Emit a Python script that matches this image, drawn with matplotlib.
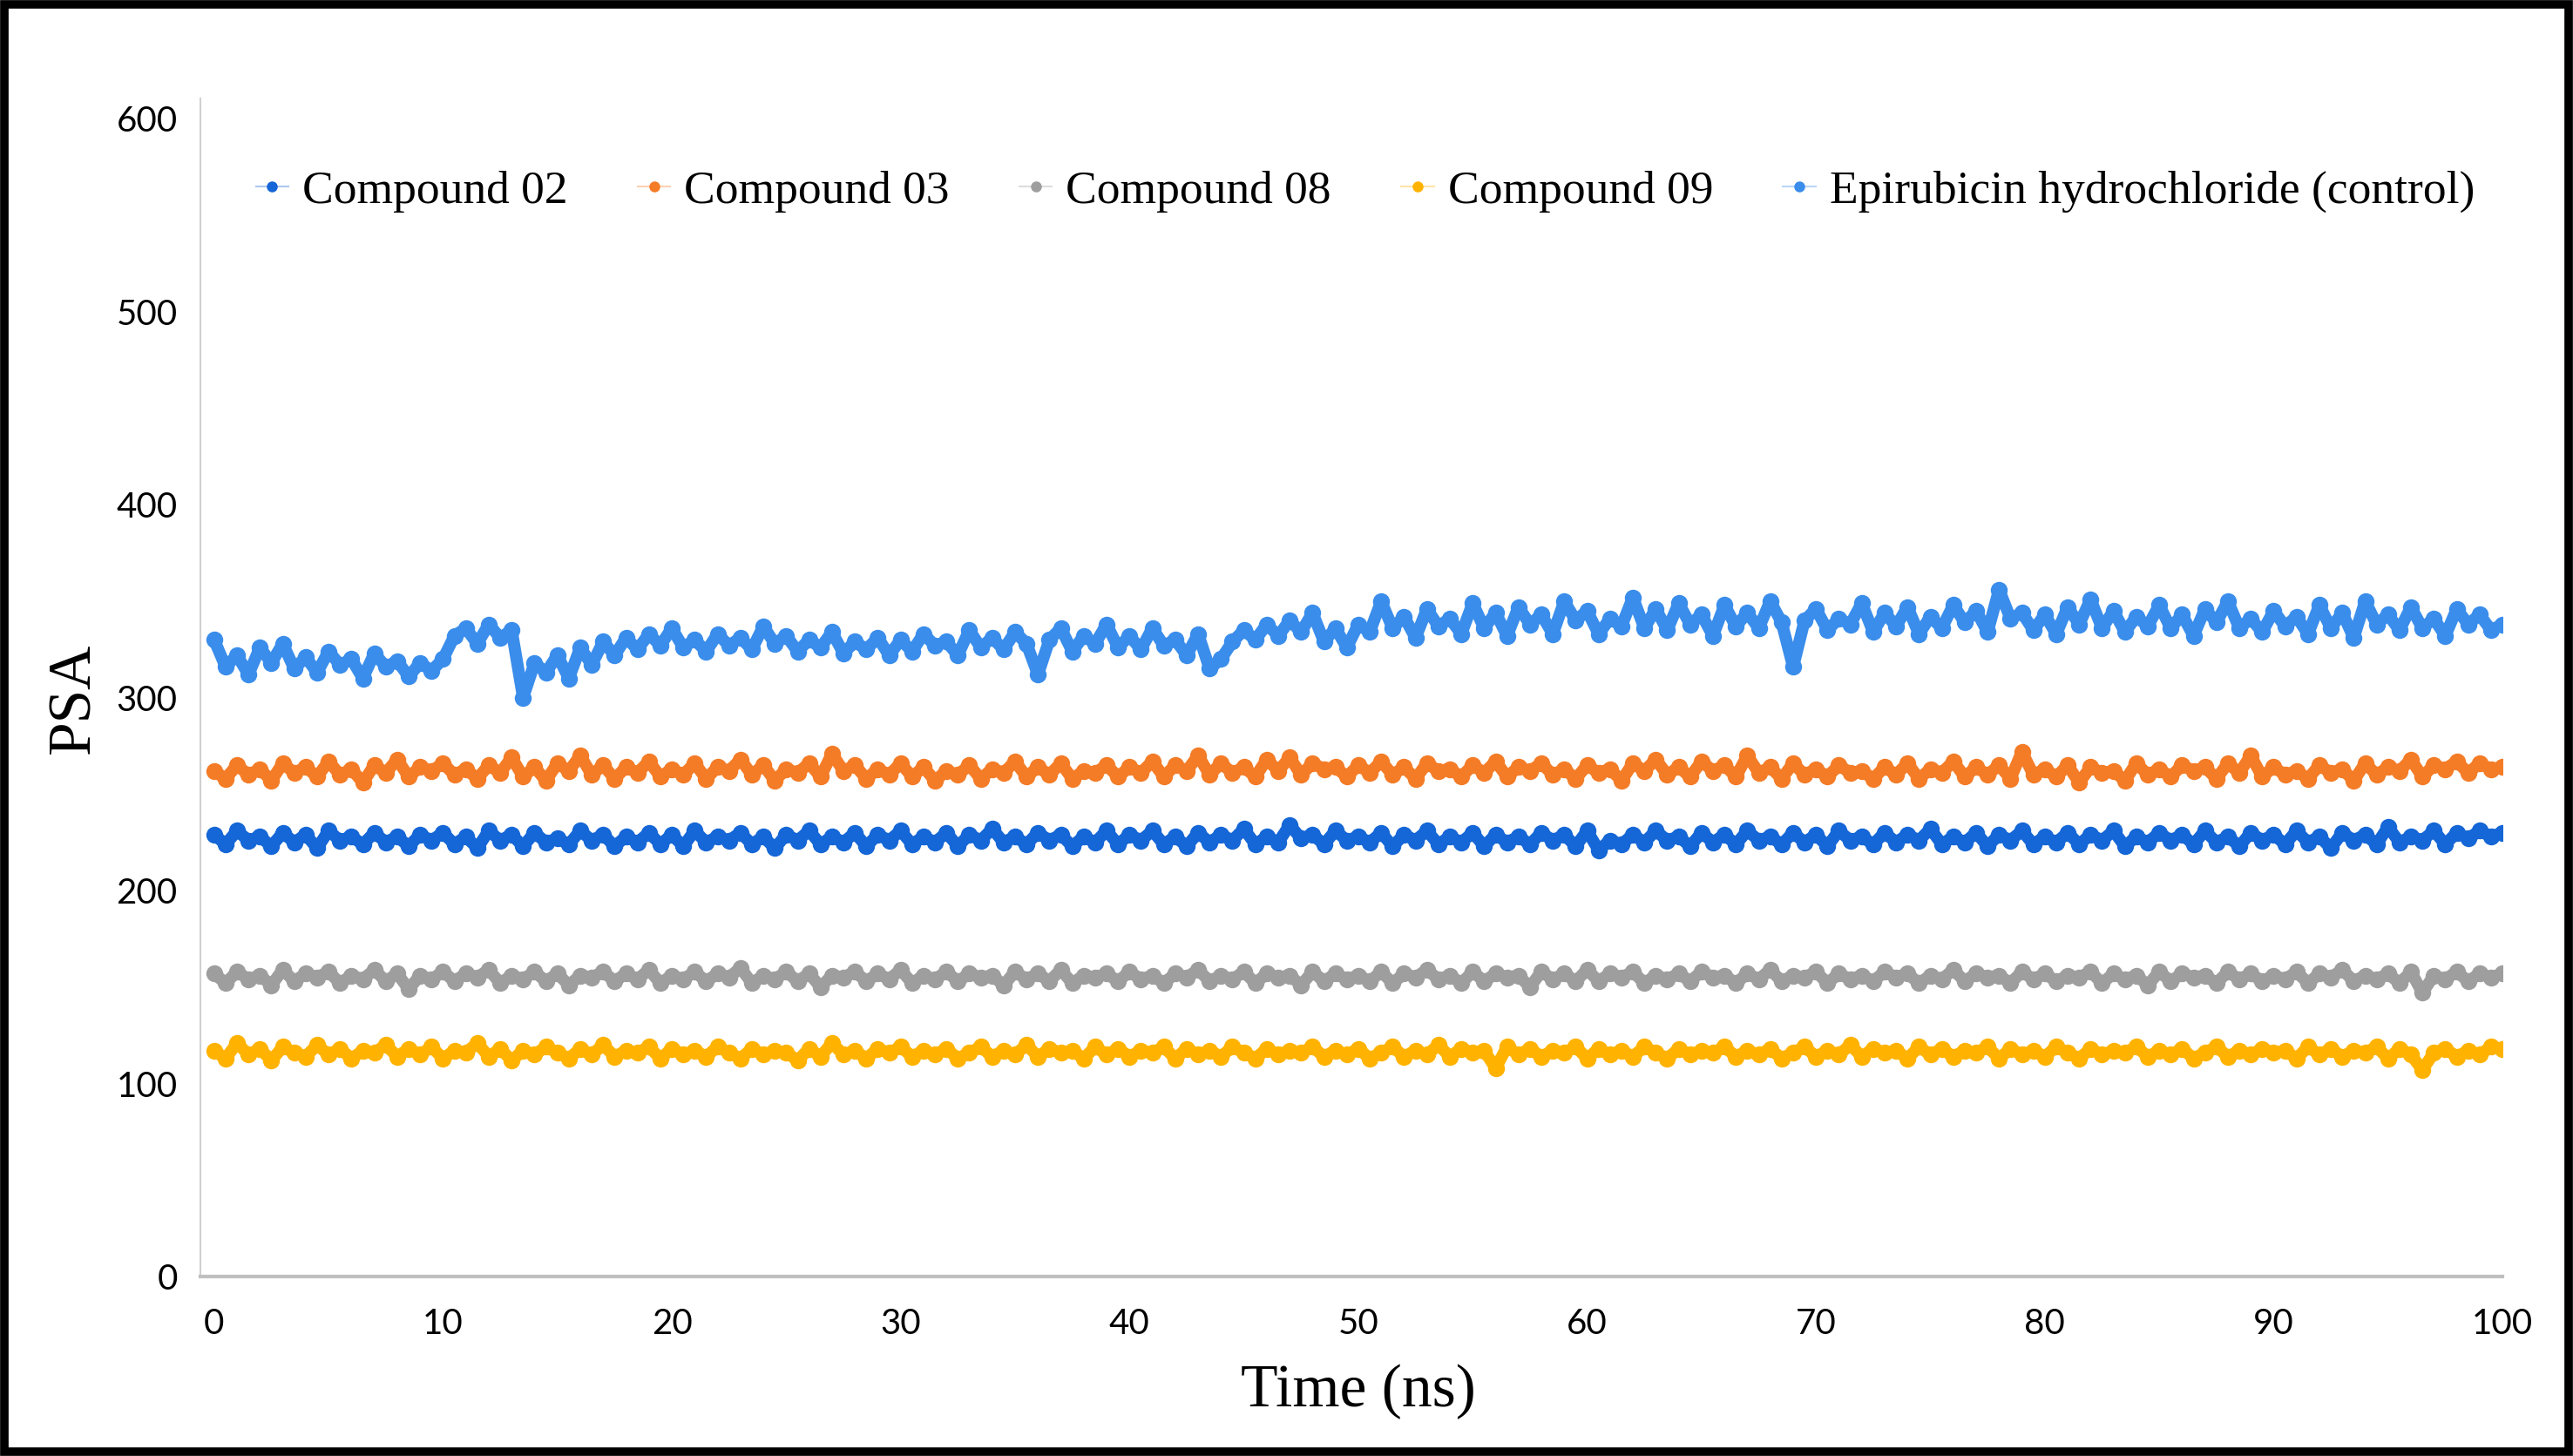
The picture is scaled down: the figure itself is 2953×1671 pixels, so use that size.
import numpy as np
import matplotlib
matplotlib.use('Agg')
import matplotlib.pyplot as plt
from matplotlib.lines import Line2D
from matplotlib.patches import Rectangle

epirubicin = [
    330, 316, 322, 312, 326, 318, 328, 315, 321, 313, 324, 317, 320, 310, 323, 316, 319, 311, 318, 314,
    320, 332, 336, 328, 338, 331, 335, 300, 318, 313, 322, 310, 326, 317, 329, 322, 331, 325, 333, 327,
    336, 326, 330, 324, 333, 327, 331, 325, 337, 328, 332, 324, 330, 326, 334, 323, 329, 325, 331, 322,
    330, 324, 333, 327, 329, 322, 335, 326, 331, 325, 334, 328, 312, 330, 336, 324, 332, 328, 338, 326,
    332, 325, 336, 327, 330, 322, 333, 315, 320, 329, 335, 330, 338, 332, 340, 334, 344, 329, 336, 326,
    338, 334, 350, 336, 342, 331, 346, 337, 341, 333, 349, 336, 344, 332, 347, 338, 343, 333, 350, 340,
    345, 333, 341, 337, 352, 336, 346, 335, 349, 338, 343, 332, 348, 337, 344, 336, 350, 339, 316, 340,
    346, 335, 341, 338, 349, 334, 344, 337, 347, 333, 342, 336, 348, 339, 345, 334, 356, 341, 344, 335,
    343, 333, 347, 338, 351, 336, 345, 334, 342, 337, 348, 336, 343, 332, 346, 339, 350, 336, 341, 334,
    345, 337, 342, 333, 348, 336, 344, 331, 350, 338, 343, 335, 347, 336, 341, 332, 346, 338, 343, 335,
    338]

compound_03 = [
    262, 258, 265, 260, 263, 257, 266, 261, 264, 259, 267, 260, 263, 256, 265, 261, 268, 259, 264, 262,
    266, 260, 263, 258, 265, 261, 269, 259, 264, 257, 266, 262, 270, 260, 265, 258, 264, 261, 267, 259,
    263, 260, 266, 258, 264, 262, 268, 260, 265, 257, 263, 261, 266, 259, 271, 262, 265, 258, 263, 260,
    266, 259, 264, 257, 262, 260, 265, 258, 263, 261, 267, 259, 264, 260, 266, 258, 262, 261, 265, 259,
    264, 261, 267, 259, 265, 262, 270, 260, 266, 261, 264, 259, 268, 262, 269, 260, 266, 263, 264, 259,
    265, 261, 267, 260, 264, 258, 266, 262, 263, 259, 265, 261, 267, 259, 264, 262, 266, 260, 263, 258,
    265, 261, 263, 257, 266, 262, 268, 260, 264, 259, 267, 262, 265, 259, 270, 261, 264, 258, 266, 260,
    263, 259, 265, 261, 262, 258, 264, 260, 266, 258, 263, 261, 267, 259, 264, 260, 265, 258, 272, 260,
    263, 259, 265, 256, 264, 261, 262, 257, 266, 260, 263, 259, 265, 262, 264, 258, 266, 261, 270, 259,
    264, 260, 262, 258, 265, 261, 263, 257, 266, 260, 264, 262, 268, 259, 265, 263, 267, 261, 266, 263,
    264]

compound_02 = [
    229, 224, 231, 226, 228, 223, 230, 225, 229, 222, 231, 226, 228, 224, 230, 225, 228, 223, 229, 226,
    230, 224, 228, 222, 231, 226, 229, 223, 230, 225, 227, 224, 231, 226, 229, 223, 228, 225, 230, 224,
    229, 223, 231, 225, 228, 226, 230, 224, 228, 222, 229, 226, 231, 224, 228, 225, 230, 223, 229, 226,
    231, 224, 228, 225, 230, 223, 229, 226, 232, 225, 228, 224, 230, 226, 229, 223, 228, 225, 231, 224,
    229, 226, 231, 224, 228, 223, 230, 225, 229, 226, 232, 224, 228, 225, 234, 227, 229, 224, 231, 226,
    228, 225, 230, 223, 229, 226, 231, 224, 228, 225, 230, 223, 229, 225, 228, 224, 230, 226, 229, 223,
    231, 221, 226, 224, 229, 225, 231, 226, 228, 223, 230, 225, 229, 224, 231, 226, 228, 224, 230, 225,
    229, 223, 231, 226, 228, 224, 230, 225, 229, 226, 232, 224, 228, 225, 230, 223, 229, 226, 231, 224,
    228, 225, 230, 224, 229, 226, 231, 223, 228, 225, 230, 226, 229, 224, 231, 225, 228, 223, 230, 226,
    229, 224, 231, 225, 228, 222, 230, 226, 229, 224, 233, 225, 228, 226, 231, 224, 230, 227, 231, 228,
    230]

compound_08 = [
    157, 152, 158, 154, 156, 151, 159, 153, 157, 155, 158, 152, 156, 154, 159, 153, 157, 149, 156, 154,
    158, 153, 157, 155, 159, 152, 156, 154, 158, 153, 157, 151, 156, 155, 158, 153, 157, 154, 159, 152,
    156, 154, 158, 153, 157, 155, 160, 152, 156, 154, 158, 153, 157, 150, 156, 155, 158, 153, 157, 154,
    159, 152, 156, 154, 158, 153, 157, 155, 156, 151, 158, 154, 157, 153, 159, 152, 156, 155, 157, 153,
    158, 154, 156, 152, 157, 155, 159, 153, 156, 154, 158, 152, 157, 155, 156, 151, 158, 153, 157, 154,
    156, 153, 158, 152, 157, 155, 159, 154, 156, 152, 158, 153, 157, 155, 156, 150, 158, 154, 157, 153,
    159, 153, 157, 155, 158, 152, 156, 154, 157, 153, 158, 155, 156, 152, 157, 154, 159, 153, 156, 155,
    158, 152, 157, 154, 156, 153, 158, 155, 157, 152, 156, 154, 159, 153, 157, 155, 156, 152, 158, 154,
    157, 153, 156, 155, 158, 152, 157, 154, 156, 151, 158, 153, 157, 155, 156, 152, 158, 154, 157, 153,
    156, 154, 158, 152, 157, 155, 159, 153, 156, 154, 157, 152, 158, 147, 156, 154, 158, 153, 157, 155,
    157]

compound_09 = [
    117, 113, 121, 115, 118, 112, 119, 116, 114, 120, 115, 118, 113, 117, 116, 120, 114, 118, 115, 119,
    113, 117, 116, 121, 114, 118, 112, 117, 115, 119, 116, 113, 118, 115, 120, 114, 117, 116, 119, 113,
    118, 115, 117, 114, 119, 116, 113, 118, 115, 117, 116, 112, 118, 114, 121, 115, 117, 113, 118, 116,
    119, 114, 117, 115, 118, 113, 116, 119, 114, 117, 115, 120, 114, 118, 116, 117, 113, 119, 115, 118,
    114, 117, 116, 119, 113, 118, 115, 117, 114, 119, 116, 113, 118, 115, 117, 116, 119, 114, 117, 115,
    118, 113, 116, 119, 114, 117, 115, 120, 114, 118, 116, 117, 108, 119, 115, 118, 114, 117, 116, 119,
    113, 118, 115, 117, 114, 119, 116, 113, 118, 115, 117, 116, 119, 114, 117, 115, 118, 113, 116, 119,
    114, 117, 115, 120, 114, 118, 116, 117, 113, 119, 115, 118, 114, 117, 116, 119, 113, 118, 115, 117,
    114, 119, 116, 113, 118, 115, 117, 116, 119, 114, 117, 115, 118, 113, 116, 119, 114, 117, 115, 118,
    116, 117, 113, 119, 115, 118, 114, 117, 116, 119, 113, 118, 115, 107, 116, 118, 114, 117, 115, 119,
    118]

labels = ['Compound 02', 'Compound 03', 'Compound 08', 'Compound 09',
          'Epirubicin hydrochloride (control)']
series = [compound_02, compound_03, compound_08, compound_09, epirubicin]
colors = ['#1566D6', '#F47C27', '#9E9E9E', '#FFB300', '#3A8DEB']
x_ticks = [0, 10, 20, 30, 40, 50, 60, 70, 80, 90, 100]
y_ticks = [0, 100, 200, 300, 400, 500, 600]

SERIF = ['Liberation Serif', 'DejaVu Serif']
SANS = ['Lato', 'DejaVu Sans']

fig = plt.figure(figsize=(29.53, 16.71), dpi=100)
ax = fig.add_axes([0.0779, 0.1233, 0.8947, 0.8091])

for vals, col in zip(series, colors):
    t = np.linspace(0, 100, len(vals))
    ax.plot(t, vals, color=col, lw=10, marker='o', ms=14,
            markeredgewidth=0, solid_joinstyle='round', solid_capstyle='round',
            zorder=3)

ax.set_xlim(-0.6, 100)
ax.set_ylim(0, 610.6)
ax.set_xticks(x_ticks)
ax.set_yticks(y_ticks)
ax.tick_params(length=0)
ax.tick_params(axis='x', pad=26)
ax.tick_params(axis='y', pad=19)
for lab in ax.get_xticklabels() + ax.get_yticklabels():
    lab.set_fontfamily(SANS)
    lab.set_fontsize(29)

for s in ['top', 'right']:
    ax.spines[s].set_visible(False)
ax.spines['left'].set_color('#D0D0D0')
ax.spines['left'].set_linewidth(1.5)
ax.spines['bottom'].set_color('#BFBFBF')
ax.spines['bottom'].set_linewidth(3)

fig.text(1559 / 2953, 1 - 1597 / 1671, 'Time (ns)', family=SERIF,
         fontsize=50, ha='center', va='center')
fig.text(86 / 2953, 1 - 801 / 1671, 'PSA', family=SERIF, fontsize=50,
         rotation=90, ha='center', va='center')

handles = []
for col in colors:
    rgb = matplotlib.colors.to_rgb(col)
    handles.append(Line2D([], [], color=rgb + (0.35,), lw=1.5, marker='o',
                          ms=9, markerfacecolor=col, markeredgewidth=0))
fig.legend(handles, labels, loc='center', bbox_to_anchor=(0.5306, 0.8683),
           ncol=5, frameon=False, prop={'family': SERIF, 'size': 38.5},
           handlelength=0.7, handletextpad=0.3, columnspacing=1.5)

# black frame round the whole picture
fig.patches.append(Rectangle((0.0017, 0.003), 0.9966, 0.994, transform=fig.transFigure,
                             fill=False, edgecolor='black', linewidth=7))

fig.savefig('out.png', dpi=100, facecolor='white')
